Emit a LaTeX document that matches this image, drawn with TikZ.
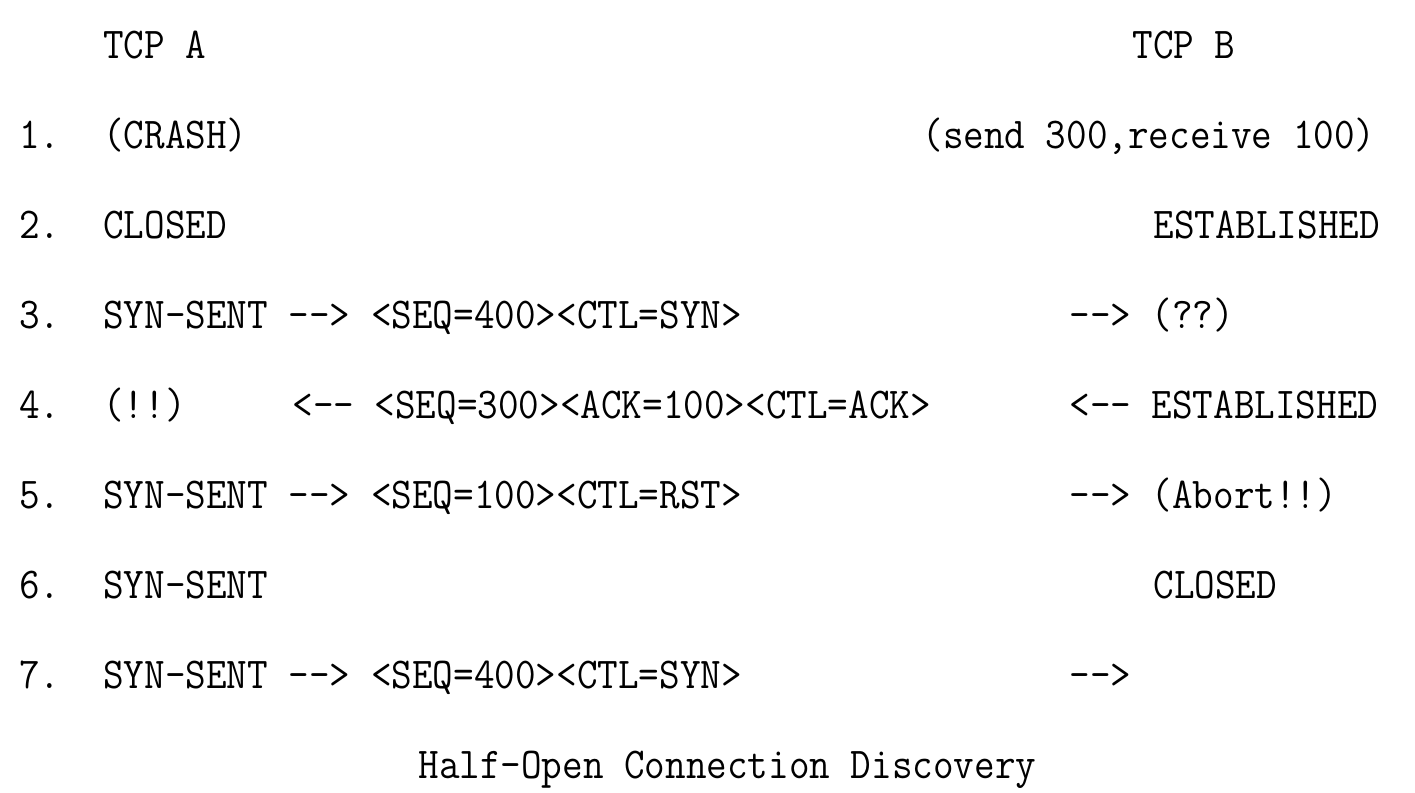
\documentclass[tikz,border=0pt]{standalone}
\usepackage{fontspec}
\setmonofont{Latin Modern Mono}[FakeStretch=0.909]
\begin{document}
\begin{tikzpicture}[x=0.5pt,y=-0.5pt,
  txt/.style={anchor=base west,inner sep=0pt,font=\ttfamily\fontsize{22}{22}\selectfont}]
\useasboundingbox (0,0) rectangle (1415,793);
% column c -> x = 103 + 21*c ; baseline of row k -> 58 + 90*k
\node[txt] (ha) at (103,58) {TCP A};
\node[txt] (hb) at (1132,58) {TCP B};
%
\node[txt] (n1) at (19,148) {1.};
\node[txt] (a1) at (103,148) {(CRASH)};
\node[txt] (b1) at (922,148) {(send 300,receive 100)};
%
\node[txt] (n2) at (19,238) {2.};
\node[txt] (a2) at (103,238) {CLOSED};
\node[txt] (b2) at (1153,238) {ESTABLISHED};
%
\node[txt] (n3) at (19,328) {3.};
\node[txt] (a3) at (103,328) {SYN-SENT --> <SEQ=400><CTL=SYN>};
\node[txt] (b3) at (1069,328) {--> (??)};
%
\node[txt] (n4) at (19,418) {4.};
\node[txt] (a4) at (103,418) {(!!)};
\node[txt] (m4) at (292,418) {<-- <SEQ=300><ACK=100><CTL=ACK>};
\node[txt] (b4) at (1069,418) {<-- ESTABLISHED};
%
\node[txt] (n5) at (19,508) {5.};
\node[txt] (a5) at (103,508) {SYN-SENT --> <SEQ=100><CTL=RST>};
\node[txt] (b5) at (1069,508) {--> (Abort!!)};
%
\node[txt] (n6) at (19,598) {6.};
\node[txt] (a6) at (103,598) {SYN-SENT};
\node[txt] (b6) at (1153,598) {CLOSED};
%
\node[txt] (n7) at (19,688) {7.};
\node[txt] (a7) at (103,688) {SYN-SENT --> <SEQ=400><CTL=SYN>};
\node[txt] (b7) at (1069,688) {-->};
%
\node[txt] (cap) at (418,778) {Half-Open Connection Discovery};
\end{tikzpicture}
\end{document}
